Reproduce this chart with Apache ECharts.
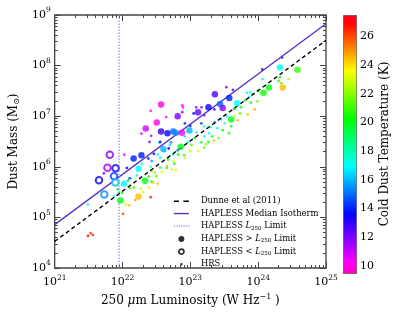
<!DOCTYPE html>
<html><head><meta charset="utf-8">
<script src="https://cdn.jsdelivr.net/npm/echarts@6/dist/echarts.min.js"></script>
<style>html,body{margin:0;padding:0;background:#fff}#c{width:415px;height:312px}</style>
</head><body><div id="c"></div>
<script>
// ---- data ----
const xTicks = [1e21, 1e22, 1e23, 1e24, 1e25];
const yTicks = [1e4, 1e5, 1e6, 1e7, 1e8, 1e9];
const cbarTicks = [10, 12, 14, 16, 18, 20, 22, 24, 26];
const tempRange = [9.5, 27.5];
const dunneLine = [[1e21, 3.35e4], [1e25, 3.16e8]];
const isothermLine = [[1e21, 7.2e4], [1e25, 6.7e8]];
const limitLum = 8.9e21;
const limitMassRange = [1e4, 1e9];

// HAPLESS above L250 limit: [L250 (W/Hz), Mdust (Msun), Tc (K)]
const haplessAbove = [
  [3.7e22,1.7e7,10],[6.5e22,1.0e7,12],[3.2e22,7.5e6,10],[2.2e22,5.7e6,11],
  [2.3e23,2.7e7,12.5],[1.85e23,1.5e7,13.5],[1.3e23,1.2e7,12.3],[3.75e23,2.3e7,14],
  [2.75e23,1.75e7,15],[3.0e23,1.45e7,12],[4.9e23,1.8e7,17],[2.1e24,9.2e7,17],
  [3.8e24,8.3e7,21],[1.44e24,3.7e7,20],[1.2e24,2.9e7,20.5],[2.3e24,3.7e7,24.5],
  [4.0e23,8.6e6,20],[3.7e22,5.0e6,13],[4.6e22,4.6e6,13.5],[5.6e22,5.0e6,15],
  [6.1e22,4.7e6,15.5],[7.5e22,4.7e6,10.5],[9.7e22,5.2e6,16],[7.2e22,2.5e6,20],
  [4.0e22,2.26e6,16],[1.9e22,1.7e6,14],[1.46e22,1.46e6,14],[1.73e22,9.2e5,17],
  [2.15e22,5.3e5,20],[1.05e22,4.6e5,17],[1.72e22,2.6e5,24.5],[9.3e21,2.15e5,20]
];
// HAPLESS below L250 limit
const haplessBelow = [
  [6.5e21,1.73e6,12],[6.0e21,9.6e5,11.5],[7.9e21,9.4e5,13.5],[4.5e21,5.4e5,13.5],
  [7.5e21,6.5e5,14.5],[7.85e21,4.9e5,16],[5.4e21,2.85e5,15.5]
];
// HRS
const hrsPoints = [
  [3.4e21,4.9e4,26.5],[3.1e21,4.3e4,27],[3.65e21,4.5e4,26.5],[3.1e21,1.8e5,17],
  [5.3e21,7.4e5,12],[1.02e22,1.17e5,26],[1.06e22,1.73e6,10.5],[7.5e21,2.6e5,17],
  [8.5e21,3.6e5,20],[8.9e21,3.1e5,18.5],[9.9e21,3.05e5,20.5],[1.13e22,1.78e5,23],
  [1.26e22,1.73e5,24.5],[1.54e22,2.2e5,25],[2.6e22,2.5e5,26.5],[1.2e22,5.3e5,20],
  [1.34e22,6.0e5,17],[1.28e22,3.8e5,20.5],[1.47e22,3.9e5,21],[1.85e22,3.65e5,23],
  [2.0e22,3.15e5,23],[2.46e22,3.9e5,23],[2.44e22,6.4e5,20],[2.7e22,5.1e5,20.5],
  [3.3e22,4.6e5,24.5],[2.85e22,4.8e5,24],[3.15e22,6.5e5,21.5],[2.7e22,8.3e5,21.5],
  [3.0e22,7.7e5,22],[3.6e22,9.6e5,19],[4.5e22,9.6e5,20],[5.3e22,8.8e5,23],
  [6.1e22,8.6e5,24],[3.8e22,8.0e5,23],[4.5e22,1.04e6,24.5],[5.8e22,1.15e6,20.5],
  [4.7e22,1.4e6,20.5],[5.6e22,1.3e6,23],[6.6e22,1.75e6,20.5],[8.1e22,1.7e6,21],
  [8.3e22,1.5e6,23],[9.8e22,2.04e6,23],[1.3e23,2.04e6,23.5],[1.6e23,2.4e6,21.5],
  [1.45e23,3.05e6,20],[1.85e23,3.1e6,20.5],[2.1e23,4.0e6,20],[1.16e23,3.7e6,20],
  [1.24e23,4.8e6,17],[1.62e23,4.0e6,17.5],[1.9e23,4.6e6,17],[2.5e23,5.8e6,17],
  [3.2e23,7.2e6,17.5],[4.0e23,6.3e6,20],[1.6e23,6.3e6,17],[1.45e23,7.2e6,14.5],
  [1.0e23,6.4e6,14],[8.3e22,7.2e6,14],[8.3e22,4.0e6,16.5],[5.0e22,2.7e6,16.5],
  [3.5e22,3.0e6,16.5],[3.3e22,1.75e6,17],[4.2e22,2.04e6,17],[3.6e22,1.5e6,17.5],
  [2.7e22,1.3e6,15.5],[2.9e22,1.8e6,13.5],[2.4e22,1.46e6,14],[1.93e22,1.14e6,17],
  [2.6e22,1.0e6,17],[1.64e22,6.8e5,17],[1.27e22,5.9e5,14.5],[1.16e22,9.5e5,13.5],
  [1.9e22,4.5e6,10.5],[2.65e22,4.1e6,11.5],[2.6e22,1.28e7,10],[2.5e22,3.1e6,12],
  [3.6e22,3.1e6,13.5],[4.8e22,2.3e6,13.5],[5.2e22,3.05e6,15.5],[9.2e22,3.1e6,17],
  [6.5e22,2.1e6,15.5],[5.6e22,1.75e6,17],[4.4e22,9.6e6,10],[7.8e22,1.5e7,10.5],
  [7.6e22,1.2e7,12],[1.22e23,1.5e7,12],[1.46e23,1.5e7,12],[1.6e23,1.04e7,12],
  [1.12e23,1.13e7,13.5],[3.4e23,3.75e7,12],[4.25e23,3.3e7,12.5],[2.26e23,1.36e7,14],
  [4.4e23,1.4e7,16],[1.15e24,8.4e7,13.5],[2.25e24,1.44e8,14],[1.16e24,5.4e7,17],
  [2.1e24,5.9e7,20],[2.0e24,5.0e7,20.5],[2.2e24,4.5e7,21.5],[2.8e24,5.4e7,22.5],
  [6.8e23,2.9e7,17],[7.6e23,3.0e7,17],[8.2e23,2.7e7,17.5],[9.9e23,3.2e7,20],
  [7.4e23,2.4e7,17],[6.4e23,2.06e7,20],[7.8e23,1.85e7,20.5],[9.7e23,1.97e7,21.5],
  [5.6e23,1.5e7,20],[4.5e23,1.4e7,20.5],[5.4e23,1.13e7,21.5],[4.5e23,1.02e7,23],
  [7.0e23,1.08e7,24.5],[8.9e23,1.36e7,24.5],[5.0e23,8.3e6,24.5],[7.6e22,1.64e7,10],
  [3.5e23,9.9e6,17],[2.84e23,8.7e6,16.5],[2.3e23,7.6e6,16],[2.0e23,6.1e6,17.5],
  [3.0e23,5.3e6,20],[3.7e23,4.6e6,21],[2.6e23,3.7e6,21.5],[1.7e23,2.8e6,22],
  [1.04e23,2.7e6,21],[2.24e23,3.3e6,24.5]
];

// ---- styling helpers ----
const FONT = 'DejaVu Serif';
const AX = '#444';
function gistRainbow(f) {
  const s = [[0,255,0,41],[0.03,255,0,0],[0.215,255,255,0],[0.4,0,255,0],[0.586,0,255,255],[0.77,0,0,255],[0.954,255,0,255],[1,255,0,191]];
  for (let i = 1; i < s.length; i++) {
    if (f <= s[i][0]) {
      const a = s[i-1], b = s[i], t = (f - a[0]) / (b[0] - a[0]);
      const c = [1,2,3].map(k => Math.round(a[k] + (b[k]-a[k]) * t));
      return 'rgb(' + c.join(',') + ')';
    }
  }
  return 'rgb(255,0,191)';
}
const cmap = [];
for (let i = 0; i <= 60; i++) cmap.push(gistRainbow(1 - i / 60));

function minorOf(majors) {
  const out = [];
  for (let i = 0; i < majors.length - 1; i++) for (let k = 2; k <= 9; k++) out.push(majors[i] * k);
  return out;
}
const supFmt = v => '{b|10}{e|' + Math.round(Math.log10(v)) + '}';
const supRich = { b: { fontFamily: FONT, fontSize: 11, color: '#000' }, e: { fontFamily: FONT, fontSize: 7.5, color: '#000', padding: [0, 0, 9, 0] } };

function logAxis(dir, pos, ticks, len, labels, extra) {
  const a = {
    type: 'log', logBase: 10, gridIndex: 0, position: pos,
    min: ticks[0], max: ticks[ticks.length - 1],
    axisLine: { show: false }, splitLine: { show: false }, silent: true,
    axisTick: { show: true, inside: true, length: len, customValues: labels === 'minor' ? minorOf(ticks) : ticks, lineStyle: { color: AX, width: 1 } },
    axisLabel: labels === true ? { show: true, customValues: ticks, formatter: supFmt, rich: supRich, margin: dir === 'x' ? 6 : 4 } : { show: false }
  };
  return Object.assign(a, extra || {});
}

// legend icons: box 25 x 8
const BOX = 'M0 0M25 8';
let dots = '';
for (let x = 3; x < 18; x += 2.4) dots += 'M' + x + ' 3.4h1.2v1.2h-1.2z';
const icons = {
  dunne: 'path://' + BOX + 'M3 3.3h5v1.4h-5zM12.5 3.3h5.5v1.4h-5.5z',
  iso: 'path://' + BOX + 'M3 3.3h15v1.4h-15z',
  limit: 'path://' + BOX + dots,
  above: 'path://' + BOX + 'M13.5 4A3 3 0 1 1 13.5 3.99Z',
  below: 'path://' + BOX + 'M13 4A2.5 2.5 0 1 1 13 3.99Z',
  hrs: 'path://' + BOX + 'M11.7 4A1.2 1.2 0 1 1 11.7 3.99Z'
};

const chart = echarts.init(document.getElementById('c'), null, { renderer: 'canvas' });
const LF = 8.4;
const names = {
  dunne: 'Dunne et al (2011)',
  iso: 'HAPLESS Median Isotherm',
  limit: '{n|HAPLESS }{i|L}{s|250}{n| Limit}',
  above: '{n|HAPLESS > }{i|L}{s|250}{n| Limit}',
  below: '{n|HAPLESS < }{i|L}{s|250}{n| Limit}',
  hrs: 'HRS'
};

chart.setOption({
  animation: false,
  backgroundColor: '#fff',
  grid: [
    { left: 52, top: 15, width: 274, height: 257, show: true, borderColor: AX, borderWidth: 1.3, backgroundColor: 'transparent' },
    { left: 343, top: 15, width: 13, height: 258, show: false }
  ],
  xAxis: [
    logAxis('x', 'bottom', xTicks, 6, true, {
      name: '{t|250 }{i|μ}{t|m Luminosity (W Hz}{e|−1}{t| )}', nameLocation: 'middle', nameGap: 25,
      nameTextStyle: { rich: { t: { fontFamily: FONT, fontSize: 12, color: '#000' }, i: { fontFamily: FONT, fontStyle: 'italic', fontSize: 12, color: '#000' }, e: { fontFamily: FONT, fontSize: 8, color: '#000', padding: [0, 0, 8, 0] } } }
    }),
    logAxis('x', 'bottom', xTicks, 3, 'minor'),
    logAxis('x', 'top', xTicks, 6, false),
    logAxis('x', 'top', xTicks, 3, 'minor'),
    { type: 'value', gridIndex: 1, show: false, min: 0, max: 1 }
  ],
  yAxis: [
    logAxis('y', 'left', yTicks, 6, true, {
      name: '{t|Dust Mass (M}{s|⊙}{t|)}', nameLocation: 'middle', nameGap: 31, nameRotate: 90,
      nameTextStyle: { rich: { t: { fontFamily: FONT, fontSize: 12, color: '#000' }, s: { fontFamily: FONT, fontSize: 8, color: '#000', padding: [6, 0, 0, 0] } } }
    }),
    logAxis('y', 'left', yTicks, 3, 'minor'),
    logAxis('y', 'right', yTicks, 6, false),
    logAxis('y', 'right', yTicks, 3, 'minor'),
    {
      type: 'value', gridIndex: 1, position: 'right', min: tempRange[0], max: tempRange[1],
      axisLine: { show: false }, splitLine: { show: false },
      axisTick: { show: true, length: 3, customValues: cbarTicks, lineStyle: { color: AX } },
      axisLabel: { customValues: cbarTicks, margin: 4, fontFamily: FONT, fontSize: 11, color: '#000' },
      name: 'Cold Dust Temperature (K)', nameLocation: 'middle', nameRotate: 90, nameGap: 23,
      nameTextStyle: { fontFamily: FONT, fontSize: 12, color: '#000' }
    }
  ],
  visualMap: {
    type: 'continuous', min: tempRange[0], max: tempRange[1], dimension: 2,
    seriesIndex: [0, 4, 5], inRange: { color: cmap },
    show: true, calculable: false, hoverLink: false, text: null,
    left: 343, top: 15, itemWidth: 13, itemHeight: 258, padding: 0,
    borderColor: '#555', borderWidth: 1, orient: 'vertical'
  },
  legend: {
    orient: 'vertical', left: 165, top: 191.5, itemGap: 2.8, itemWidth: 25, itemHeight: 8,
    selectedMode: false,
    data: [
      { name: 'dunne', icon: icons.dunne, itemStyle: { color: '#000', borderWidth: 0 } },
      { name: 'iso', icon: icons.iso, itemStyle: { color: '#5a2fc2', borderWidth: 0 } },
      { name: 'limit', icon: icons.limit, itemStyle: { color: '#9b84e2', borderWidth: 0 } },
      { name: 'above', icon: icons.above, itemStyle: { color: '#000', borderWidth: 0 } },
      { name: 'below', icon: icons.below, itemStyle: { color: '#fff', borderColor: '#000', borderWidth: 1.8 } },
      { name: 'hrs', icon: icons.hrs, itemStyle: { color: '#000', borderWidth: 0 } }
    ],
    formatter: n => names[n],
    textStyle: {
      color: '#000', fontFamily: FONT, fontSize: LF, lineHeight: 9.5,
      rich: {
        n: { fontFamily: FONT, fontSize: LF, color: '#000', lineHeight: 9.5 },
        i: { fontFamily: FONT, fontStyle: 'italic', fontSize: LF, color: '#000', lineHeight: 9.5 },
        s: { fontFamily: FONT, fontSize: 5.5, color: '#000', padding: [4, 0, 0, 0], lineHeight: 6 }
      }
    }
  },
  series: [
    { name: 'hrs', type: 'scatter', xAxisIndex: 0, yAxisIndex: 0, data: hrsPoints, symbol: 'circle', symbolSize: 2.8, silent: true, z: 2 },
    { name: 'dunne', type: 'line', xAxisIndex: 0, yAxisIndex: 0, data: dunneLine, symbol: 'none', silent: true, z: 3,
      lineStyle: { color: '#000', width: 1.4, type: [4, 3] } },
    { name: 'iso', type: 'line', xAxisIndex: 0, yAxisIndex: 0, data: isothermLine, symbol: 'none', silent: true, z: 3,
      lineStyle: { color: '#5a2fc2', width: 1.3 } },
    { name: 'limit', type: 'line', xAxisIndex: 0, yAxisIndex: 0, data: limitMassRange.map(m => [limitLum, m]), symbol: 'none', silent: true, z: 3,
      lineStyle: { color: '#9b84e2', width: 1.2, type: [1.5, 1.5] } },
    { name: 'above', type: 'scatter', xAxisIndex: 0, yAxisIndex: 0, data: haplessAbove, symbol: 'circle', symbolSize: 6.5, silent: true, z: 4 },
    { name: 'below', type: 'scatter', xAxisIndex: 0, yAxisIndex: 0, data: haplessBelow, symbol: 'emptyCircle', symbolSize: 6.5, silent: true, z: 4,
      itemStyle: { borderWidth: 1.8 } }
  ]
});
</script></body></html>
